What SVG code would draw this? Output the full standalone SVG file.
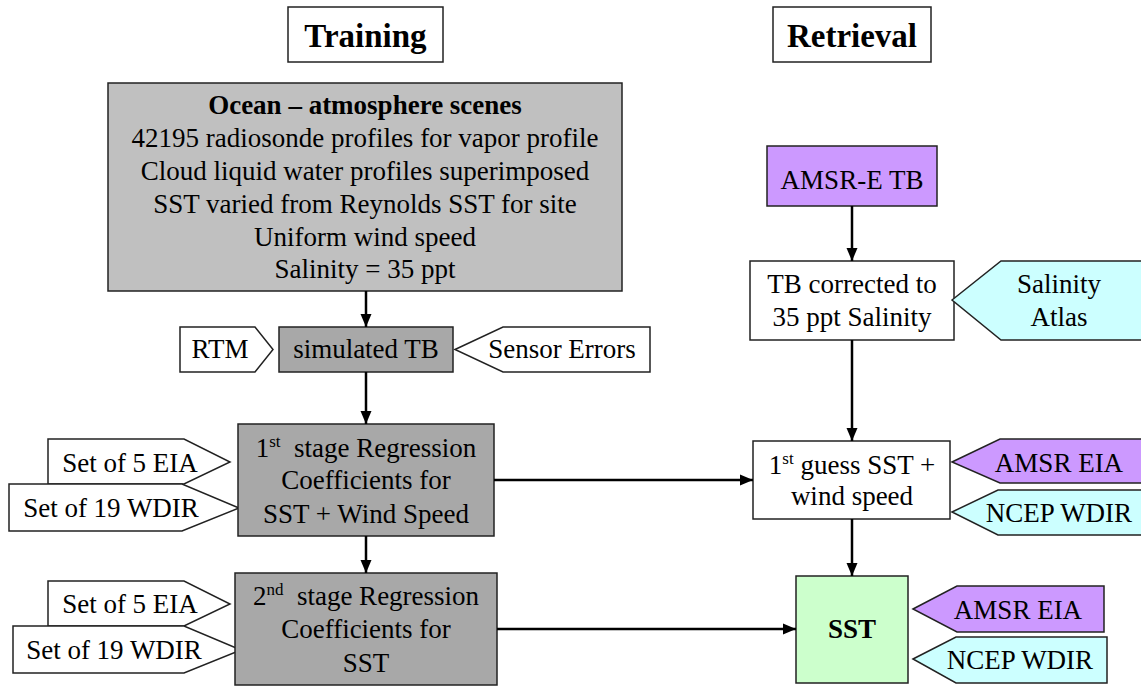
<svg xmlns="http://www.w3.org/2000/svg" width="1141" height="686" viewBox="0 0 1141 686">
<style>
text{font-family:"Liberation Serif","Times New Roman",serif;font-size:27px;fill:#000;text-anchor:middle}
.b{font-weight:bold}
.t{font-size:33px;font-weight:bold}
.box{stroke:#222;stroke-width:1.5}
.w{fill:#fff}
.g1{fill:#c0c0c0}
.g2{fill:#a8a8a8}
.p{fill:#cc99ff}
.c{fill:#ccffff}
.gr{fill:#ccffcc}
.sup{font-size:17px}
.conn{stroke:#000;stroke-width:2.5;fill:none;marker-end:url(#ah)}
</style>
<defs>
<marker id="ah" markerUnits="userSpaceOnUse" markerWidth="14" markerHeight="14" viewBox="0 0 14 14" refX="13" refY="7" orient="auto">
<path d="M0,1.5 L13,7 L0,12.5 Z" fill="#000"/>
</marker>
</defs>
<rect width="1141" height="686" fill="#fff"/>

<g id="training-title"><rect class="box w" x="288" y="7" width="155" height="55"/><text class="t" x="365.5" y="47">Training</text></g>
<g id="retrieval-title"><rect class="box w" x="773" y="7" width="158" height="55"/><text class="t" x="852" y="47">Retrieval</text></g>

<g id="ocean-scenes">
<rect class="box g1" x="108" y="83" width="514" height="208"/>
<text class="b" x="365" y="114">Ocean – atmosphere scenes</text>
<text x="365" y="147">42195 radiosonde profiles for vapor profile</text>
<text x="365" y="180">Cloud liquid water profiles superimposed</text>
<text x="365" y="213">SST varied from Reynolds SST for site</text>
<text x="365" y="246">Uniform wind speed</text>
<text x="365" y="278">Salinity = 35 ppt</text>
</g>

<g id="rtm"><path class="box w" d="M180,327 L255,327 L273,349.5 L255,372 L180,372 Z"/><text x="220" y="358">RTM</text></g>
<g id="simulated-tb"><rect class="box g2" x="279" y="327" width="174" height="45"/><text x="366" y="358">simulated TB</text></g>
<g id="sensor-errors"><path class="box w" d="M455,349.5 L503,327 L650,327 L650,372 L503,372 Z"/><text x="562" y="358">Sensor Errors</text></g>

<g id="set5-eia-1"><path class="box w" d="M48,439 L184,439 L230,462 L184,484 L48,484 Z"/><text x="130" y="472">Set of 5 EIA</text></g>
<g id="set19-wdir-1"><path class="box w" d="M9,484 L182,484 L239,508 L182,531 L9,531 Z"/><text x="111" y="517">Set of 19 WDIR</text></g>
<g id="stage1">
<rect class="box g2" x="238" y="424" width="256" height="112"/>
<text x="366" y="457">1<tspan class="sup" dy="-10">st</tspan><tspan dy="10">&#160; stage Regression</tspan></text>
<text x="366" y="489">Coefficients for</text>
<text x="366" y="523">SST + Wind Speed</text>
</g>

<g id="set5-eia-2"><path class="box w" d="M48,581 L184,581 L230,604 L184,626 L48,626 Z"/><text x="130" y="613">Set of 5 EIA</text></g>
<g id="set19-wdir-2"><path class="box w" d="M13,626 L184,626 L241,650 L184,673 L13,673 Z"/><text x="114" y="659">Set of 19 WDIR</text></g>
<g id="stage2">
<rect class="box g2" x="235" y="573" width="262" height="112"/>
<text x="366" y="605">2<tspan class="sup" dy="-10">nd</tspan><tspan dy="10">&#160; stage Regression</tspan></text>
<text x="366" y="638">Coefficients for</text>
<text x="366" y="672">SST</text>
</g>

<g id="amsre-tb"><rect class="box p" x="767" y="146" width="170" height="60"/><text x="852" y="189">AMSR-E TB</text></g>
<g id="tb-corrected">
<rect class="box w" x="750" y="261" width="204" height="79"/>
<text x="852" y="293">TB corrected to</text>
<text x="852" y="326">35 ppt Salinity</text>
</g>
<g id="salinity-atlas">
<path class="box c" d="M952,300 L1001,261 L1145,261 L1145,340 L1001,340 Z"/>
<text x="1059" y="293">Salinity</text>
<text x="1059" y="326">Atlas</text>
</g>

<g id="first-guess">
<rect class="box w" x="753" y="441" width="197" height="78"/>
<text x="852" y="474">1<tspan class="sup" dy="-10">st</tspan><tspan dy="10"> guess SST +</tspan></text>
<text x="852" y="505">wind speed</text>
</g>
<g id="amsr-eia-1"><path class="box p" d="M952,462 L1000,439 L1145,439 L1145,483 L1000,483 Z"/><text x="1059" y="472">AMSR EIA</text></g>
<g id="ncep-wdir-1"><path class="box c" d="M952,512 L998,490 L1145,490 L1145,535 L998,535 Z"/><text x="1059" y="522">NCEP WDIR</text></g>

<g id="sst"><rect class="box gr" x="796" y="576" width="112" height="107"/><text class="b" x="852" y="638">SST</text></g>
<g id="amsr-eia-2"><path class="box p" d="M913,609 L957,586 L1104,586 L1104,632 L957,632 Z"/><text x="1018" y="619">AMSR EIA</text></g>
<g id="ncep-wdir-2"><path class="box c" d="M913,659 L956,637 L1107,637 L1107,683 L956,683 Z"/><text x="1020" y="669">NCEP WDIR</text></g>

<g id="connectors">
<line class="conn" x1="366" y1="291" x2="366" y2="327"/>
<line class="conn" x1="366" y1="372" x2="366" y2="424"/>
<line class="conn" x1="366" y1="536" x2="366" y2="573"/>
<line class="conn" x1="494" y1="480" x2="753" y2="480"/>
<line class="conn" x1="497" y1="629" x2="796" y2="629"/>
<line class="conn" x1="852" y1="206" x2="852" y2="261"/>
<line class="conn" x1="852" y1="340" x2="852" y2="441"/>
<line class="conn" x1="852" y1="519" x2="852" y2="576"/>
</g>
</svg>
